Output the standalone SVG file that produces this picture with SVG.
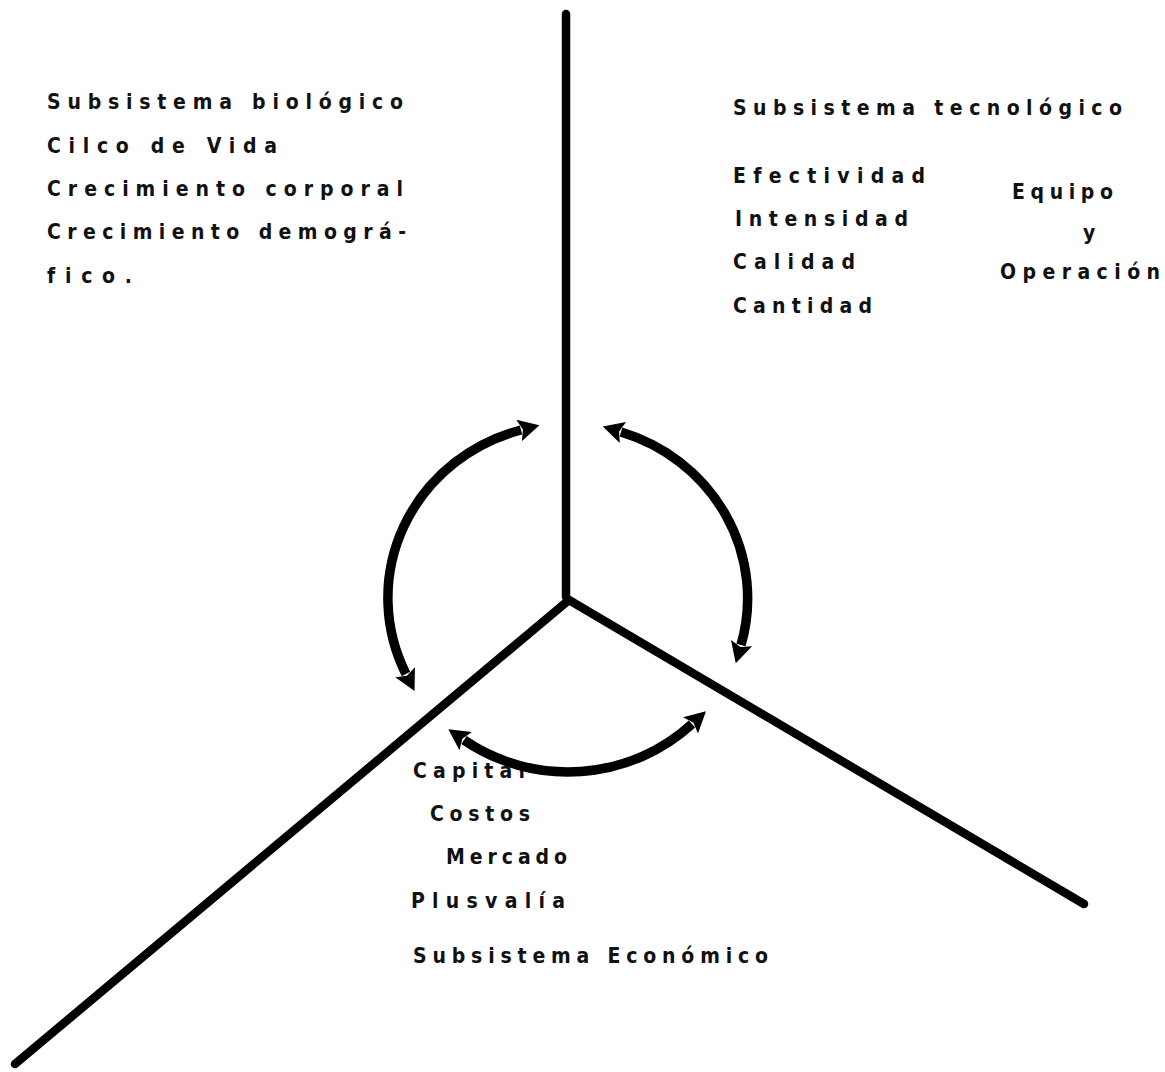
<svg xmlns="http://www.w3.org/2000/svg" width="1165" height="1072" viewBox="0 0 1165 1072">
<style>
text{font-family:"DejaVu Sans Condensed","DejaVu Sans","Liberation Sans",sans-serif;font-size:21px;font-weight:bold;fill:#111;font-variant-ligatures:none;}
.ax{fill:none;stroke:#000;stroke-width:8.5;stroke-linecap:round;stroke-linejoin:miter;}
.arc{fill:none;stroke:#000;stroke-width:9.5;stroke-linecap:butt;}
</style>
<defs>
<marker id="ah" markerUnits="userSpaceOnUse" viewBox="0 -13 24 26" refX="2" refY="0" markerWidth="24" markerHeight="26" orient="auto-start-reverse">
<path d="M0,-11 L21,0 L0,11 L4,0 Z" fill="#000"/>
</marker>
</defs>
<rect width="1165" height="1072" fill="#fff"/>
<g id="bio">
<text x="47" y="109" textLength="356" lengthAdjust="spacing">Subsistema biológico</text>
<text x="47" y="153" textLength="230" lengthAdjust="spacing">Cilco de Vida</text>
<text x="47" y="196" textLength="356" lengthAdjust="spacing">Crecimiento corporal</text>
<text x="47" y="239" textLength="359" lengthAdjust="spacing">Crecimiento demográ-</text>
<text x="47" y="283" textLength="85" lengthAdjust="spacing">fico.</text>
</g>
<g id="tec">
<text x="733" y="115" textLength="389" lengthAdjust="spacing">Subsistema tecnológico</text>
<text x="733" y="183" textLength="192" lengthAdjust="spacing">Efectividad</text>
<text x="735" y="226" textLength="173" lengthAdjust="spacing">Intensidad</text>
<text x="733" y="269" textLength="122" lengthAdjust="spacing">Calidad</text>
<text x="733" y="313" textLength="139" lengthAdjust="spacing">Cantidad</text>
<text x="1012" y="199" textLength="101" lengthAdjust="spacing">Equipo</text>
<text x="1083" y="240">y</text>
<text x="1000" y="279" textLength="160" lengthAdjust="spacing">Operación</text>
</g>
<g id="eco">
<text x="413" y="778" textLength="112" lengthAdjust="spacing">Capital</text>
<text x="430" y="821" textLength="100" lengthAdjust="spacing">Costos</text>
<text x="446" y="864" textLength="121" lengthAdjust="spacing">Mercado</text>
<text x="411" y="908" textLength="154" lengthAdjust="spacing">Plusvalía</text>
<text x="413" y="963" textLength="355" lengthAdjust="spacing">Subsistema Económico</text>
</g>
<g id="connectors">
<path class="ax" d="M566 14 L566 597"/>
<path class="ax" d="M15 1064 L569 600 L1084 904"/>
<path class="arc" d="M521 430 A180 174 0 0 0 406 674" marker-start="url(#ah)" marker-end="url(#ah)"/>
<path class="arc" d="M621 432 A180 174 0 0 1 741 645" marker-start="url(#ah)" marker-end="url(#ah)"/>
<path class="arc" d="M692 724 A180 174 0 0 1 464 740" marker-start="url(#ah)" marker-end="url(#ah)"/>
</g>
</svg>
